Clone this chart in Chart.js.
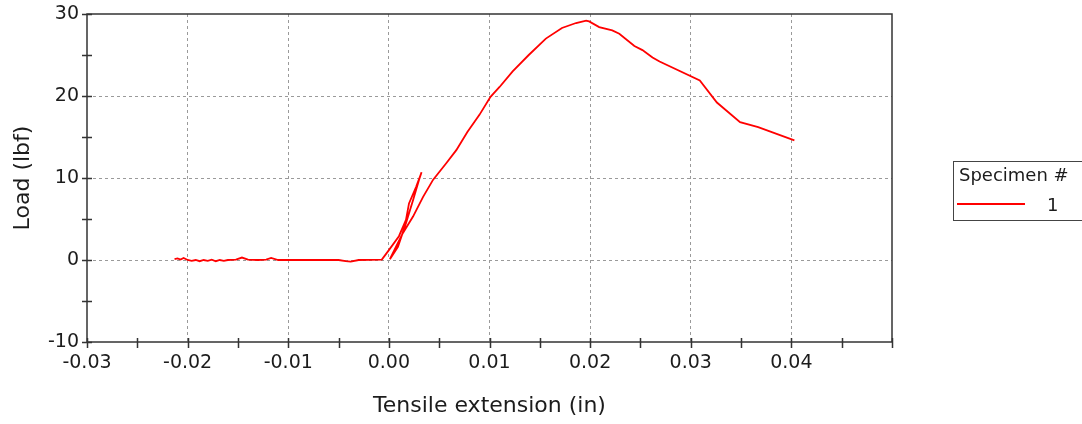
<!DOCTYPE html>
<html>
<head>
<meta charset="utf-8">
<script src="https://cdn.jsdelivr.net/npm/chart.js@4/dist/chart.umd.min.js"></script>
<style>
  html, body { margin: 0; padding: 0; background: #fff; }
  #wrap { position: relative; width: 1082px; height: 424px; overflow: hidden; }
  #legend {
    position: absolute; left: 953px; top: 161px; width: 150px; height: 60px;
    border: 1.5px solid #444; font-family: 'DejaVu Sans', sans-serif; color: #1c1c1c;
    box-sizing: border-box;
  }
  #legend .ttl { position: absolute; left: 5px; top: 2px; font-size: 18px; }
  #legend .swatch { position: absolute; left: 3px; top: 41px; width: 68px; height: 2px; background: #ff0000; }
  #legend .num { position: absolute; left: 93px; top: 32px; font-size: 18px; }
</style>
</head>
<body>
<div id="wrap">
  <canvas id="c" width="1082" height="424"></canvas>
  <div id="legend"><span class="ttl">Specimen #</span><span class="swatch"></span><span class="num">1</span></div>
</div>
<script>
// Specimen 1 — extension (in) vs load (lbf)
const extension = [
  -0.0213, -0.0210, -0.0207, -0.0204, -0.0200, -0.0196, -0.0192, -0.0188, -0.0184, -0.0180,
  -0.0176, -0.0172, -0.0168, -0.0164, -0.0160, -0.0152, -0.0146, -0.0140, -0.0130, -0.0122,
  -0.0117, -0.0110, -0.0090, -0.0050, -0.0043, -0.0038, -0.0030, -0.0007,
  // first loading
  0.0000, 0.0010, 0.0017, 0.0020, 0.0027, 0.00325,
  // unloading
  0.0030, 0.0024, 0.0017, 0.0009, 0.0001,
  // reload and main curve
  0.0007, 0.0014, 0.0024, 0.0034, 0.0044, 0.0057, 0.0067, 0.0078, 0.0090, 0.0101,
  0.0110, 0.0123, 0.0139, 0.0156, 0.0172, 0.0186, 0.0196, 0.0199, 0.0209, 0.0222,
  0.0229, 0.0244, 0.0252, 0.0262, 0.0269, 0.0309, 0.0326, 0.0349, 0.0367, 0.0403
];
const load = [
  0.10, 0.20, 0.05, 0.25, 0.00, -0.10, 0.00, -0.15, 0.00, -0.10,
  0.05, -0.15, 0.00, -0.10, 0.00, 0.05, 0.30, 0.05, 0.00, 0.05,
  0.25, 0.00, 0.00, 0.00, -0.15, -0.20, 0.00, 0.05,
  1.2, 2.9, 4.9, 6.9, 8.9, 10.7,
  9.8, 7.3, 4.5, 1.6, 0.1,
  1.6, 3.3, 5.3, 7.7, 9.8, 11.8, 13.4, 15.6, 17.7, 19.9,
  21.1, 23.0, 25.0, 27.0, 28.3, 28.9, 29.2, 29.1, 28.4, 28.0,
  27.6, 26.1, 25.6, 24.7, 24.2, 21.9, 19.2, 16.8, 16.2, 14.6
];

const xMin = -0.03, xMax = 0.05, xStep = 0.005;
const yMin = -10, yMax = 30, yStep = 5;

const FONT = "'DejaVu Sans', sans-serif";
const INK = '#1c1c1c';
const GRID = '#9a9a9a';
const AXIS = '#333';

const isMajorX = v => Math.abs(Math.round(v * 1000)) % 10 === 0;
const isMajorY = v => Math.round(v) % 10 === 0;

// tick marks cross the axis line, plus the full frame round the plot
const frameTicks = {
  id: 'frameTicks',
  afterDraw(chart) {
    const { ctx, chartArea: a, scales: { x, y } } = chart;
    ctx.save();
    ctx.strokeStyle = AXIS;
    ctx.lineWidth = 1.5;
    ctx.strokeRect(a.left, a.top, a.right - a.left, a.bottom - a.top);
    ctx.beginPath();
    x.ticks.forEach(t => {
      const px = Math.round(x.getPixelForValue(t.value)) + 0.5;
      ctx.moveTo(px, a.bottom - 4);
      ctx.lineTo(px, a.bottom + 6);
    });
    y.ticks.forEach(t => {
      const py = Math.round(y.getPixelForValue(t.value)) + 0.5;
      ctx.moveTo(a.left - 5, py);
      ctx.lineTo(a.left + 5, py);
    });
    ctx.stroke();
    ctx.restore();
  }
};

new Chart(document.getElementById('c'), {
  type: 'scatter',
  plugins: [frameTicks],
  data: {
    datasets: [{
      label: '1',
      data: extension.map((v, i) => ({ x: v, y: load[i] })),
      showLine: true,
      borderColor: '#ff0000',
      borderWidth: 1.8,
      pointRadius: 0,
      tension: 0
    }]
  },
  options: {
    responsive: false,
    animation: false,
    devicePixelRatio: 1,
    layout: { padding: { left: 10, right: 190, top: 14, bottom: 5 } },
    plugins: { legend: { display: false }, tooltip: { enabled: false } },
    scales: {
      x: {
        type: 'linear', min: xMin, max: xMax,
        afterFit(s) { s.height = 77; s.paddingLeft = 0; s.paddingRight = 0; },
        ticks: {
          stepSize: xStep, autoSkip: false, maxRotation: 0, padding: 10,
          color: INK, font: { family: FONT, size: 19 },
          callback: v => (isMajorX(v) && Math.round(v * 1000) !== 50) ? (Math.round(v * 100) / 100).toFixed(2).replace('-0.00', '0.00') : ''
        },
        grid: {
          drawTicks: false,
          lineWidth: 1,
          color: c => (c.tick && isMajorX(c.tick.value) && c.tick.value > xMin + 1e-6 && c.tick.value < xMax - 1e-6) ? GRID : 'rgba(0,0,0,0)'
        },
        border: { display: false, dash: [3, 3] },
        title: { display: true, text: 'Tensile extension (in)', color: INK, font: { family: FONT, size: 22 }, padding: 0 }
      },
      y: {
        type: 'linear', min: yMin, max: yMax,
        afterFit(s) { s.width = 77; s.paddingTop = 0; s.paddingBottom = 0; },
        ticks: {
          stepSize: yStep, autoSkip: false, padding: 8,
          color: INK, font: { family: FONT, size: 19 },
          callback: v => isMajorY(v) ? String(v) : ''
        },
        grid: {
          drawTicks: false,
          lineWidth: 1,
          color: c => (c.tick && isMajorY(c.tick.value) && c.tick.value > yMin && c.tick.value < yMax) ? GRID : 'rgba(0,0,0,0)'
        },
        border: { display: false, dash: [3, 3] },
        title: { display: true, text: 'Load (lbf)', color: INK, font: { family: FONT, size: 22 }, padding: 0 }
      }
    }
  }
});
</script>
</body>
</html>
